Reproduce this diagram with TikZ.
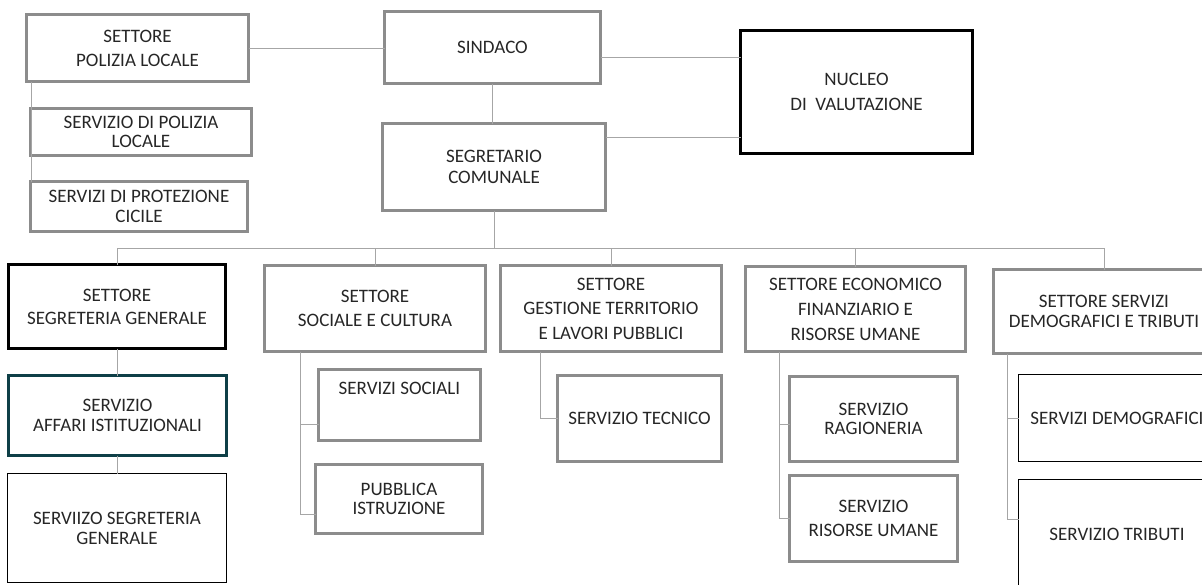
\documentclass[tikz,border=0pt]{standalone}
\usepackage{fontspec}
\usepackage{tikz}
\usetikzlibrary{arrows,calc,positioning}
\newfontfamily\boxfont{Carlito}
\definecolor{boxgray}{HTML}{8C8C8C}
\definecolor{linkgray}{HTML}{A6A6A6}
\definecolor{tealedge}{HTML}{0E3F47}
\definecolor{textgray}{HTML}{262626}
\tikzstyle{link}=[
  color=linkgray,
  draw=linkgray,
  line width=1pt,
]
\tikzstyle{office}=[
  rectangle,
  draw,
  font={\boxfont\fontsize{19}{21}\selectfont},
  text=textgray,
  inner sep=0pt,
  outer sep=0pt,
  align=center,
]
\tikzstyle{sector}=[office, draw=boxgray, line width=3.3pt]
\tikzstyle{head}=[office, draw=black, line width=3pt]
\tikzstyle{tealbox}=[office, draw=tealedge, line width=3pt]
\tikzstyle{thinbox}=[office, draw=black, line width=1.3pt]
\tikzset{
  x=1pt,
  y=-1pt,
  dims/.style 2 args={minimum width=#1pt, minimum height=#2pt},
  lead/.style={font={\boxfont\fontsize{19}{#1}\selectfont}},
}

\begin{document}
\begin{tikzpicture}
      \useasboundingbox (0,0) rectangle (1202,584);
      \clip (0,0) rectangle (1202,584);
      % vertici
      \node [sector, dims={222}{67}, lead=24] (POLIZIA) at (137.5,48) {SETTORE\\POLIZIA LOCALE};
      \node [sector, dims={221}{47}, lead=19] (POLSERV) at (141,132) {SERVIZIO DI POLIZIA\\LOCALE};
      \node [sector, dims={217}{50}, lead=20] (PROTEZIONE) at (139,206.5) {SERVIZI DI PROTEZIONE\\CICILE};
      \node [sector, dims={216}{72}] (SINDACO) at (492.5,47.5) {SINDACO};
      \node [sector, dims={223}{87}, lead=21] (SEGRETARIO) at (494,167) {SEGRETARIO\\COMUNALE};
      \node [head, dims={232}{123}, lead=25] (NUCLEO) at (856.5,92) {NUCLEO\\DI\ \ VALUTAZIONE};
      % settori
      \node [head, dims={217}{84}, lead=23] (SEGRETERIA) at (117,306.5) {SETTORE\\SEGRETERIA GENERALE};
      \node [sector, dims={221}{86}, lead=24] (SOCIALE) at (375,308.5) {SETTORE\\SOCIALE E CULTURA};
      \node [sector, dims={221}{86}, lead=24.5] (GESTIONE) at (611,308.5) {SETTORE\\GESTIONE TERRITORIO\\E LAVORI PUBBLICI};
      \node [sector, dims={220}{85}, lead=25] (ECONOMICO) at (855.5,309) {SETTORE ECONOMICO\\FINANZIARIO E\\RISORSE UMANE};
      \node [sector, dims={221}{84}, lead=20] (DEMOGRAFICI) at (1104,311.5) {SETTORE SERVIZI\\DEMOGRAFICI E TRIBUTI};
      % servizi
      \node [tealbox, dims={218}{80}, lead=20] (AFFARI) at (117.5,415.5) {SERVIZIO\\AFFARI ISTITUZIONALI};
      \node [thinbox, dims={219}{109}, lead=20] (SEGRGEN) at (117,528) {SERVIIZO SEGRETERIA\\GENERALE};
      \node [sector, dims={162}{71}, lead=34] (SOCIALI) at (399.5,405) {SERVIZI SOCIALI\\\phantom{S}};
      \node [sector, dims={167}{69}, lead=19] (ISTRUZIONE) at (399,499) {PUBBLICA\\ISTRUZIONE};
      \node [sector, dims={164}{86}] (TECNICO) at (639.5,418.5) {SERVIZIO TECNICO};
      \node [sector, dims={168}{85}, lead=19] (RAGIONERIA) at (873.5,419) {SERVIZIO\\RAGIONERIA};
      \node [sector, dims={168}{86}, lead=24] (UMANE) at (873.5,518.5) {SERVIZIO\\RISORSE UMANE};
      \node [thinbox, dims={197}{87}] (DEMOSERV) at (1117,418) {SERVIZI DEMOGRAFICI};
      \node [thinbox, dims={197}{110}] (TRIBUTI) at (1117,534.5) {SERVIZIO TRIBUTI};
      \coordinate (BUS) at (0,248);
      % collegamenti
      \draw [link] (POLIZIA.east) -- (POLIZIA.east -| SINDACO.west);
      \draw [link] (SINDACO.south) -- (SINDACO.south |- SEGRETARIO.north);
      \draw [link] ([yshift=-10pt]SINDACO.east) -- ([yshift=-10pt]SINDACO.east -| NUCLEO.west);
      \draw [link] ([yshift=30pt]SEGRETARIO.east) -- ([yshift=30pt]SEGRETARIO.east -| NUCLEO.west);
      \draw [link] ([xshift=5pt]POLIZIA.south west) -- ([xshift=5pt]POLIZIA.south west |- PROTEZIONE.north);
      \draw [link] (SEGRETARIO.south) -- (SEGRETARIO.south |- BUS);
      \foreach \s in {SEGRETERIA,SOCIALE,GESTIONE,ECONOMICO,DEMOGRAFICI}
        \draw [link] (SEGRETARIO.south |- BUS) -| (\s.north);
      \draw [link] (SEGRETERIA.south) -- (SEGRETERIA.south |- AFFARI.north);
      \draw [link] (AFFARI.south) -- (AFFARI.south |- SEGRGEN.north);
      \draw [link] ([xshift=36pt]SOCIALE.south west) |- ([yshift=-19pt]SOCIALI.west);
      \draw [link] ([xshift=36pt]SOCIALE.south west) |- ([yshift=-15pt]ISTRUZIONE.west);
      \draw [link] ([xshift=40pt]GESTIONE.south west) |- (TECNICO.west);
      \draw [link] ([xshift=34pt]ECONOMICO.south west) |- ([yshift=-5pt]RAGIONERIA.west);
      \draw [link] ([xshift=34pt]ECONOMICO.south west) |- (UMANE.west);
      \draw [link] ([xshift=14pt]DEMOGRAFICI.south west) |- (DEMOSERV.west);
      \draw [link] ([xshift=14pt]DEMOGRAFICI.south west) |- ([yshift=15pt]TRIBUTI.west);
    \end{tikzpicture}
\end{document}
